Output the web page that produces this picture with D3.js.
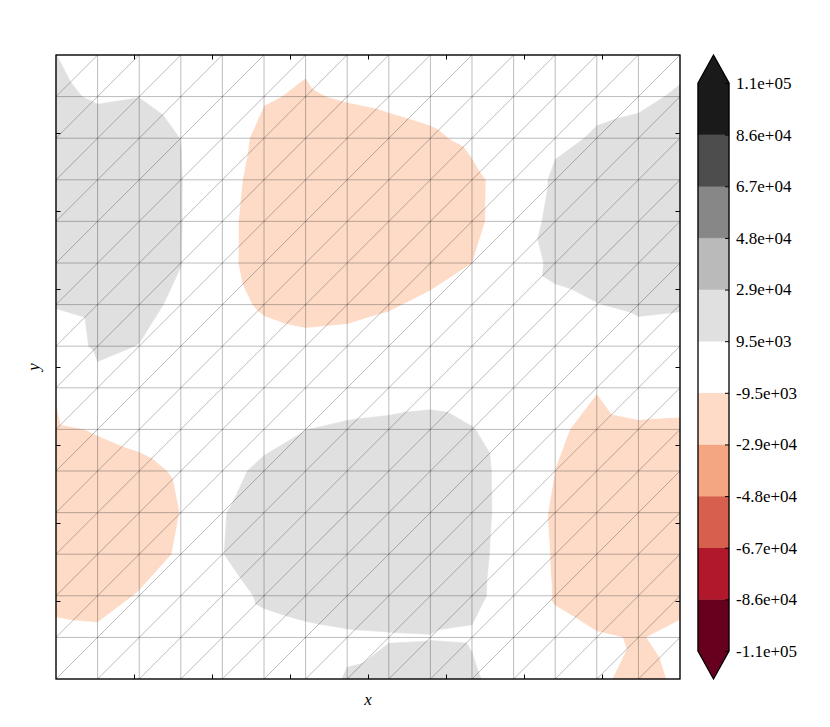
<!DOCTYPE html>
<html>
<head>
<meta charset="utf-8">
<script src="https://cdnjs.cloudflare.com/ajax/libs/d3/7.8.5/d3.min.js"></script>
<style>
    body { margin: 0; background: #fff; }
    svg text { font-family: "Liberation Serif", "DejaVu Serif", serif; }
</style>
</head>
<body>
<svg id="chart" width="830" height="727"></svg>
<script>
// Mesh node coordinates (16 x 16 regular grid)
const gridX = [-4.000, -3.467, -2.933, -2.400, -1.867, -1.333, -0.800, -0.267,
               0.267, 0.800, 1.333, 1.867, 2.400, 2.933, 3.467, 4.000];
const gridY = [-4.000, -3.467, -2.933, -2.400, -1.867, -1.333, -0.800, -0.267,
               0.267, 0.800, 1.333, 1.867, 2.400, 2.933, 3.467, 4.000];

// z at each node, top row (y = 4) first
const zRows = [
    [9600, 6300, 4900, 2500, -1200, -4000, -8600, -6100, -4900, -3800, -2000, -200, 2400, 3900, 5600, 7200],
    [11300, 8500, 9400, 5500, -1700, -9000, -10300, -8800, -7700, -6300, -3900, -300, 3500, 6100, 7900, 10500],
    [17000, 14200, 14800, 9400, -5900, -11500, -15700, -14200, -12500, -11000, -7700, -1000, 6200, 11000, 12000, 15400],
    [21500, 20500, 16300, 10100, -6600, -12700, -18500, -20600, -18500, -17000, -11600, -5500, 12700, 16000, 18200, 20000],
    [22800, 22500, 16300, 10100, -7200, -13300, -19600, -24500, -23000, -17000, -11500, -5400, 16500, 17800, 23800, 23300],
    [16500, 18100, 15800, 9800, -7200, -13400, -19000, -18500, -17000, -13200, -9600, 0, 13200, 15500, 18000, 17000],
    [10300, 12700, 12800, 7200, -5950, -11000, -12900, -12300, -10500, -7700, -3500, 1300, 5900, 9200, 11600, 10800],
    [2400, 11500, 9300, 3800, -1600, -5800, -7000, -6500, -5000, -1400, -800, 700, 300, 500, 4400, 3400],
    [-8400, 6200, 1500, 900, 400, 500, 1700, 3500, 4700, 6100, 5200, 1100, -4100, -9000, -3800, -4400],
    [-11600, -8700, -6200, -3200, 1800, 6400, 9400, 11200, 12000, 12600, 9900, 5700, -7800, -12800, -11300, -11700],
    [-17000, -14500, -12400, -8200, 6760, 11400, 14800, 17400, 18200, 18500, 12400, 6250, -9650, -15500, -17600, -17900],
    [-22300, -20900, -15400, -9400, 8900, 14900, 20800, 23600, 24200, 18800, 12500, 6300, -12900, -16800, -23000, -24000],
    [-18100, -17800, -13300, -8500, 9300, 15400, 18500, 20000, 20800, 18200, 12100, 6000, -11800, -16500, -20000, -18300],
    [-11900, -12700, -9000, -2300, 5100, 11100, 12800, 13900, 14600, 15100, 11500, 5900, -10800, -14000, -15100, -12100],
    [-7400, -7800, -5000, -1300, 3200, 6000, 7500, 8400, 8800, 9100, 8700, 1300, -5500, -8800, -10000, -7700],
    [-4700, -5300, -3100, -500, 1800, 3300, 6500, 10000, 14100, 15100, 11100, 4200, -1100, -8400, -11500, -8600]
];

// Contour levels and colorbar labels
const levels = [-105000, -85909, -66818, -47727, -28636, -9545, 9545, 28636, 47727, 66818, 85909, 105000];
const levelLabels = ['-1.1e+05', '-8.6e+04', '-6.7e+04', '-4.8e+04', '-2.9e+04', '-9.5e+03',
                     '9.5e+03', '2.9e+04', '4.8e+04', '6.7e+04', '8.6e+04', '1.1e+05'];
const bandColors = ['#67001f', '#b2182b', '#d6604d', '#f4a582', '#fddbc7', '#ffffff',
                    '#e0e0e0', '#bababa', '#878787', '#4d4d4d', '#1a1a1a'];
const underColor = '#67001f';
const overColor = '#1a1a1a';

const xTicks = [-3, -2, -1, 0, 1, 2, 3];
const yTicks = [-3, -2, -1, 0, 1, 2, 3];

const svg = d3.select('#chart');
const plot = { left: 56, top: 55, width: 624, height: 624 };

const x = d3.scaleLinear().domain([-4, 4]).range([plot.left, plot.left + plot.width]);
const y = d3.scaleLinear().domain([-4, 4]).range([plot.top + plot.height, plot.top]);

// Build nodes and triangulation (each cell split along its "/" diagonal)
const n = gridX.length;
const nodes = [];
zRows.forEach((row, r) => {
    const j = n - 1 - r;
    row.forEach((z, i) => { nodes[j * n + i] = { x: gridX[i], y: gridY[j], z: z }; });
});

const triangles = [];
for (let j = 0; j < n - 1; j++) {
    for (let i = 0; i < n - 1; i++) {
        const a = j * n + i, b = a + 1, c = a + n + 1, d = a + n;
        triangles.push([a, b, c], [a, c, d]);
    }
}

// Clip a polygon against a linear function of z (keep where fn >= 0)
function clip(poly, fn) {
    const out = [];
    for (let k = 0; k < poly.length; k++) {
        const p = poly[k], q = poly[(k + 1) % poly.length];
        const dp = fn(p), dq = fn(q);
        if (dp >= 0) out.push(p);
        if ((dp >= 0) !== (dq >= 0)) {
            const t = dp / (dp - dq);
            out.push({ x: p.x + (q.x - p.x) * t, y: p.y + (q.y - p.y) * t, z: p.z + (q.z - p.z) * t });
        }
    }
    return out;
}

// Bands: under, the 11 level bands, over
const bands = [{ lo: -Infinity, hi: levels[0], color: underColor }];
for (let k = 0; k < levels.length - 1; k++) {
    bands.push({ lo: levels[k], hi: levels[k + 1], color: bandColors[k] });
}
bands.push({ lo: levels[levels.length - 1], hi: Infinity, color: overColor });

const fillGroup = svg.append('g');
bands.forEach(band => {
    const path = d3.path();
    let any = false;
    triangles.forEach(tri => {
        let poly = tri.map(idx => nodes[idx]);
        if (band.lo > -Infinity) poly = clip(poly, p => p.z - band.lo);
        if (poly.length < 3) return;
        if (band.hi < Infinity) poly = clip(poly, p => band.hi - p.z);
        if (poly.length < 3) return;
        any = true;
        path.moveTo(x(poly[0].x), y(poly[0].y));
        for (let k = 1; k < poly.length; k++) path.lineTo(x(poly[k].x), y(poly[k].y));
        path.closePath();
    });
    if (any) {
        fillGroup.append('path')
            .attr('d', path.toString())
            .attr('fill', band.color)
            .attr('stroke', band.color)
            .attr('stroke-width', 0.6)
            .attr('stroke-linejoin', 'round');
    }
});

// Triangle mesh lines
const seen = new Set();
const mesh = d3.path();
triangles.forEach(tri => {
    for (let k = 0; k < 3; k++) {
        const a = tri[k], b = tri[(k + 1) % 3];
        const key = Math.min(a, b) + '-' + Math.max(a, b);
        if (seen.has(key)) continue;
        seen.add(key);
        mesh.moveTo(x(nodes[a].x), y(nodes[a].y));
        mesh.lineTo(x(nodes[b].x), y(nodes[b].y));
    }
});
svg.append('path')
    .attr('d', mesh.toString())
    .attr('fill', 'none')
    .attr('stroke', '#000')
    .attr('stroke-opacity', 0.45)
    .attr('stroke-width', 0.6);

// Inward ticks on all four sides, no labels
const tickLen = 4.5;
function styleAxis(g) {
    g.select('.domain').remove();
    g.selectAll('.tick line').attr('stroke', '#000').attr('stroke-width', 1);
}
svg.append('g').attr('transform', `translate(0,${plot.top + plot.height})`)
    .call(d3.axisBottom(x).tickValues(xTicks).tickSize(-tickLen).tickFormat('')).call(styleAxis);
svg.append('g').attr('transform', `translate(0,${plot.top})`)
    .call(d3.axisTop(x).tickValues(xTicks).tickSize(-tickLen).tickFormat('')).call(styleAxis);
svg.append('g').attr('transform', `translate(${plot.left},0)`)
    .call(d3.axisLeft(y).tickValues(yTicks).tickSize(-tickLen).tickFormat('')).call(styleAxis);
svg.append('g').attr('transform', `translate(${plot.left + plot.width},0)`)
    .call(d3.axisRight(y).tickValues(yTicks).tickSize(-tickLen).tickFormat('')).call(styleAxis);

svg.append('rect')
    .attr('x', plot.left).attr('y', plot.top)
    .attr('width', plot.width).attr('height', plot.height)
    .attr('fill', 'none').attr('stroke', '#000').attr('stroke-width', 1.3);

// Axis labels
svg.append('text')
    .attr('x', plot.left + plot.width / 2).attr('y', 705)
    .attr('text-anchor', 'middle')
    .style('font-style', 'italic').style('font-size', '17px')
    .text('x');
svg.append('text')
    .attr('transform', `translate(39,${plot.top + plot.height / 2}) rotate(-90)`)
    .attr('text-anchor', 'middle')
    .style('font-style', 'italic').style('font-size', '17px')
    .text('y');

// Colorbar
const cb = { left: 698, width: 31, top: 83, bottom: 651, tip: 28 };
const cbScale = d3.scaleLinear()
    .domain([levels[0], levels[levels.length - 1]])
    .range([cb.bottom, cb.top]);

const cbGroup = svg.append('g');
for (let k = 0; k < levels.length - 1; k++) {
    cbGroup.append('rect')
        .attr('x', cb.left)
        .attr('y', cbScale(levels[k + 1]))
        .attr('width', cb.width)
        .attr('height', cbScale(levels[k]) - cbScale(levels[k + 1]))
        .attr('fill', bandColors[k])
        .attr('stroke', bandColors[k])
        .attr('stroke-width', 0.5);
}
const cx = cb.left + cb.width / 2;
cbGroup.append('path')
    .attr('d', `M${cb.left},${cb.top}L${cx},${cb.top - cb.tip}L${cb.left + cb.width},${cb.top}Z`)
    .attr('fill', overColor);
cbGroup.append('path')
    .attr('d', `M${cb.left},${cb.bottom}L${cx},${cb.bottom + cb.tip}L${cb.left + cb.width},${cb.bottom}Z`)
    .attr('fill', underColor);

// Colorbar outline
cbGroup.append('path')
    .attr('d', `M${cb.left},${cb.top}L${cx},${cb.top - cb.tip}L${cb.left + cb.width},${cb.top}` +
               `L${cb.left + cb.width},${cb.bottom}L${cx},${cb.bottom + cb.tip}L${cb.left},${cb.bottom}Z`)
    .attr('fill', 'none')
    .attr('stroke', '#000')
    .attr('stroke-width', 1.3);

const cbAxis = svg.append('g')
    .attr('transform', `translate(${cb.left + cb.width},0)`)
    .call(d3.axisRight(cbScale)
        .tickValues(levels)
        .tickSize(-4)
        .tickPadding(7)
        .tickFormat((d, i) => levelLabels[i]));
cbAxis.select('.domain').remove();
cbAxis.selectAll('.tick line').attr('stroke', '#000');
cbAxis.selectAll('.tick text')
    .attr('fill', '#000')
    .style('font-size', '17px')
    .style('font-family', '"Liberation Serif", "DejaVu Serif", serif');
</script>
</body>
</html>
